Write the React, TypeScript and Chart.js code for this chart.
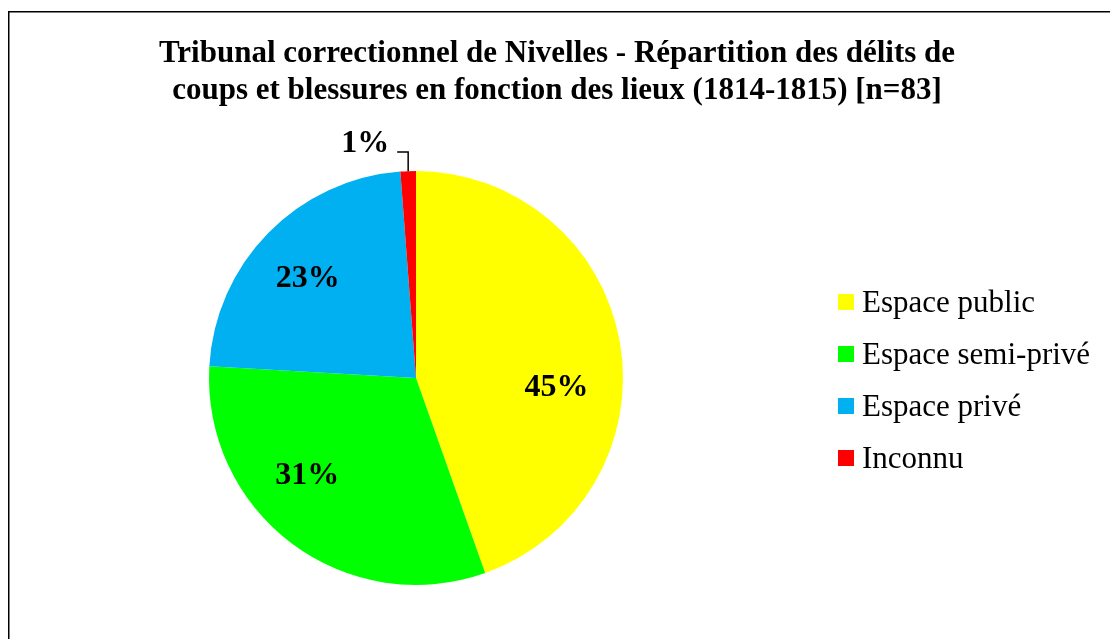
import React, { useEffect, useRef } from "react";
import { Chart, registerables } from "chart.js";

Chart.register(...registerables);

const TITLE_LINES = [
  "Tribunal correctionnel de Nivelles - Répartition des délits de",
  "coups et blessures en fonction des lieux (1814-1815) [n=83]",
];
const CATEGORIES = ["Espace public", "Espace semi-privé", "Espace privé", "Inconnu"];
const COUNTS = [37, 26, 19, 1];
const PERCENT_LABELS = ["45%", "31%", "23%", "1%"];
const COLORS = ["#FFFF00", "#00FF00", "#00B0F0", "#FF0000"];

// label placement (degrees clockwise from top, fraction of radius)
const LABEL_POLAR = [
  { deg: 93, r: 0.68 },
  { deg: 228.6, r: 0.7 },
  { deg: 313, r: 0.715 },
];

const SERIF = '"Liberation Serif", "Times New Roman", serif';

const overlay = {
  id: "overlay",
  beforeDraw(chart: any) {
    const ctx = chart.ctx;
    ctx.save();
    ctx.fillStyle = "#ffffff";
    ctx.fillRect(0, 0, chart.width, chart.height);
    ctx.strokeStyle = "#000000";
    ctx.lineWidth = 1.5;
    ctx.strokeRect(8.75, 11.75, 1200, 800);
    ctx.restore();
  },
  afterDraw(chart: any) {
    const ctx = chart.ctx;
    ctx.save();
    // title
    ctx.fillStyle = "#000";
    ctx.font = `bold 31px ${SERIF}`;
    ctx.textAlign = "center";
    ctx.textBaseline = "alphabetic";
    ctx.fillText(TITLE_LINES[0], 557, 62);
    ctx.fillText(TITLE_LINES[1], 557, 99);

    const meta = chart.getDatasetMeta(0);
    const arc0 = meta.data[0];
    const cx = arc0.x;
    const cy = arc0.y;
    const R = arc0.outerRadius;

    ctx.font = `bold 32px ${SERIF}`;
    ctx.textAlign = "center";
    ctx.textBaseline = "middle";
    LABEL_POLAR.forEach((p, i) => {
      const a = (p.deg * Math.PI) / 180;
      const x = cx + Math.sin(a) * R * p.r;
      const y = cy - Math.cos(a) * R * p.r;
      ctx.fillText(PERCENT_LABELS[i], x, y + 2);
    });

    // small slice label with leader line
    const last = meta.data[3];
    const mid = (last.startAngle + last.endAngle) / 2;
    const ex = cx + Math.cos(mid) * R;
    const ey = cy + Math.sin(mid) * R;
    const lx = ex;
    const ly = cy - R - 19;
    ctx.strokeStyle = "#000";
    ctx.lineWidth = 1.5;
    ctx.beginPath();
    ctx.moveTo(lx - 11, ly);
    ctx.lineTo(lx, ly);
    ctx.lineTo(ex, ey);
    ctx.stroke();
    ctx.textAlign = "right";
    ctx.textBaseline = "alphabetic";
    ctx.fillText(PERCENT_LABELS[3], lx - 19, ly);

    // legend
    ctx.font = `31px ${SERIF}`;
    ctx.textAlign = "left";
    CATEGORIES.forEach((c, i) => {
      const y = 312 + i * 52;
      ctx.fillStyle = COLORS[i];
      ctx.fillRect(838, y - 18, 16, 16);
      ctx.fillStyle = "#000";
      ctx.fillText(c, 862, y);
    });
    ctx.restore();
  },
};

export default function App() {
  const ref = useRef<HTMLCanvasElement>(null);
  useEffect(() => {
    if (!ref.current) return;
    const chart = new Chart(ref.current, {
      type: "pie",
      data: {
        labels: CATEGORIES,
        datasets: [
          {
            data: COUNTS,
            backgroundColor: COLORS,
            borderWidth: 0,
          },
        ],
      },
      options: {
        responsive: false,
        animation: false,
        layout: { padding: { left: 209, right: 487, top: 171, bottom: 54 } },
        plugins: {
          legend: { display: false },
          title: { display: false },
          tooltip: { enabled: false },
        },
      },
      plugins: [overlay],
    });
    return () => chart.destroy();
  }, []);
  return (
    <div style={{ position: "absolute", left: 0, top: 0, width: 1110, height: 639 }}>
      <canvas ref={ref} width={1110} height={639} />
    </div>
  );
}
